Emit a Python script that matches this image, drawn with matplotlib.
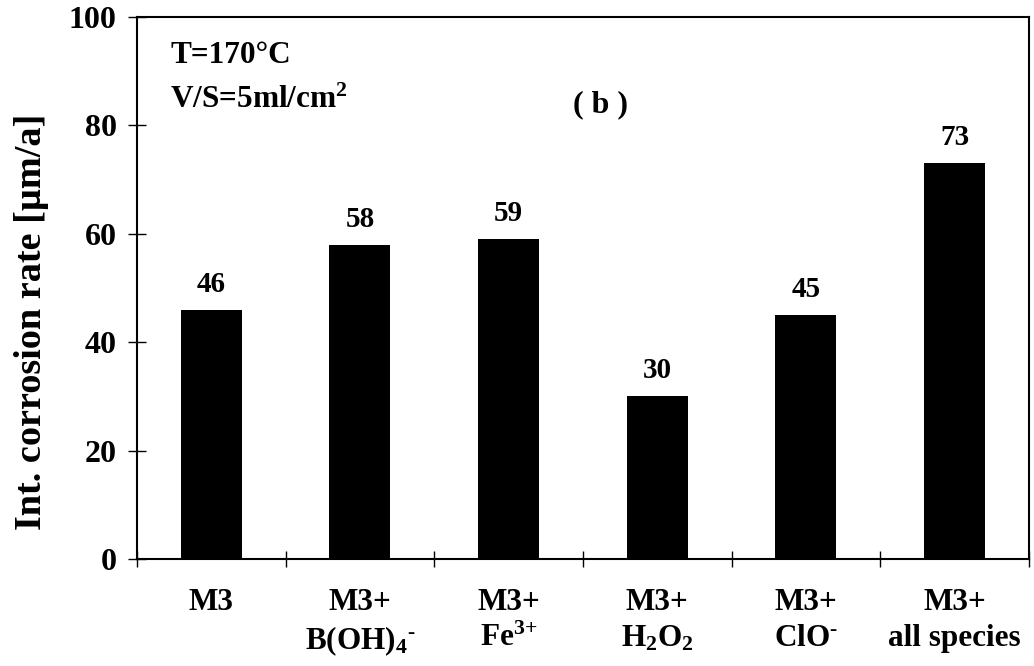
import numpy as np
import matplotlib.pyplot as plt

plt.rcParams['font.family'] = 'Liberation Serif'
plt.rcParams['font.weight'] = 'bold'
plt.rcParams['mathtext.fontset'] = 'custom'
plt.rcParams['mathtext.rm'] = 'Liberation Serif:bold'
plt.rcParams['mathtext.it'] = 'Liberation Serif:bold'
plt.rcParams['mathtext.bf'] = 'Liberation Serif:bold'

# corrosion data
labels = ['M3', 'M3+\nB(OH)$_{\\text{4}}$$^{\\text{-}}$', 'M3+\nFe$^{\\text{3+}}$',
          'M3+\nH$_{\\text{2}}$O$_{\\text{2}}$', 'M3+\nClO$^{\\text{-}}$', 'M3+\nall species']
rates = [46, 58, 59, 30, 45, 73]

x = np.arange(len(rates))

fig = plt.figure(figsize=(10.34, 6.66), dpi=100)
ax = fig.add_axes([0.1325, 0.1607, 0.8625, 0.8138])

ax.bar(x, rates, width=0.41, color='black')
for xi, r in zip(x, rates):
    ax.annotate(str(r), (xi, r), xytext=(0, 13), textcoords='offset points',
                ha='center', va='baseline', fontsize=21, fontweight='bold')

ax.set_xlim(-0.5, len(rates) - 0.5)
ax.set_ylim(0, 100)
ax.set_xticks(np.arange(len(rates) + 1) - 0.5)
ax.set_xticklabels([])
ax.set_xticks(x, minor=True)
ax.set_xticklabels(labels, minor=True, fontsize=22.5, fontweight='bold', linespacing=1.3)
ax.tick_params(axis='x', which='minor', length=0, pad=21)
ax.tick_params(axis='x', which='major', direction='inout', length=12, width=1)
ax.set_yticks(np.arange(0, 101, 20))
ax.tick_params(axis='y', direction='inout', length=13, width=1, labelsize=23, pad=8)
for lab in ax.get_yticklabels():
    lab.set_fontweight('bold')
for s in ax.spines.values():
    s.set_linewidth(1.5)

ax.set_ylabel('Int. corrosion rate [µm/a]', fontsize=27.5, fontweight='bold')
ax.yaxis.set_label_coords(-0.099, 0.438)

ax.text(0.037, 0.915, 'T=170°C', transform=ax.transAxes, fontsize=22.5, va='baseline')
ax.text(0.037, 0.832, 'V/S=5ml/cm$^{\\text{2}}$', transform=ax.transAxes, fontsize=22.5,
        va='baseline')
ax.text(0.52, 0.825, '( b )', transform=ax.transAxes, fontsize=23, ha='center',
        va='baseline')

fig.savefig('out.png', dpi=100)
